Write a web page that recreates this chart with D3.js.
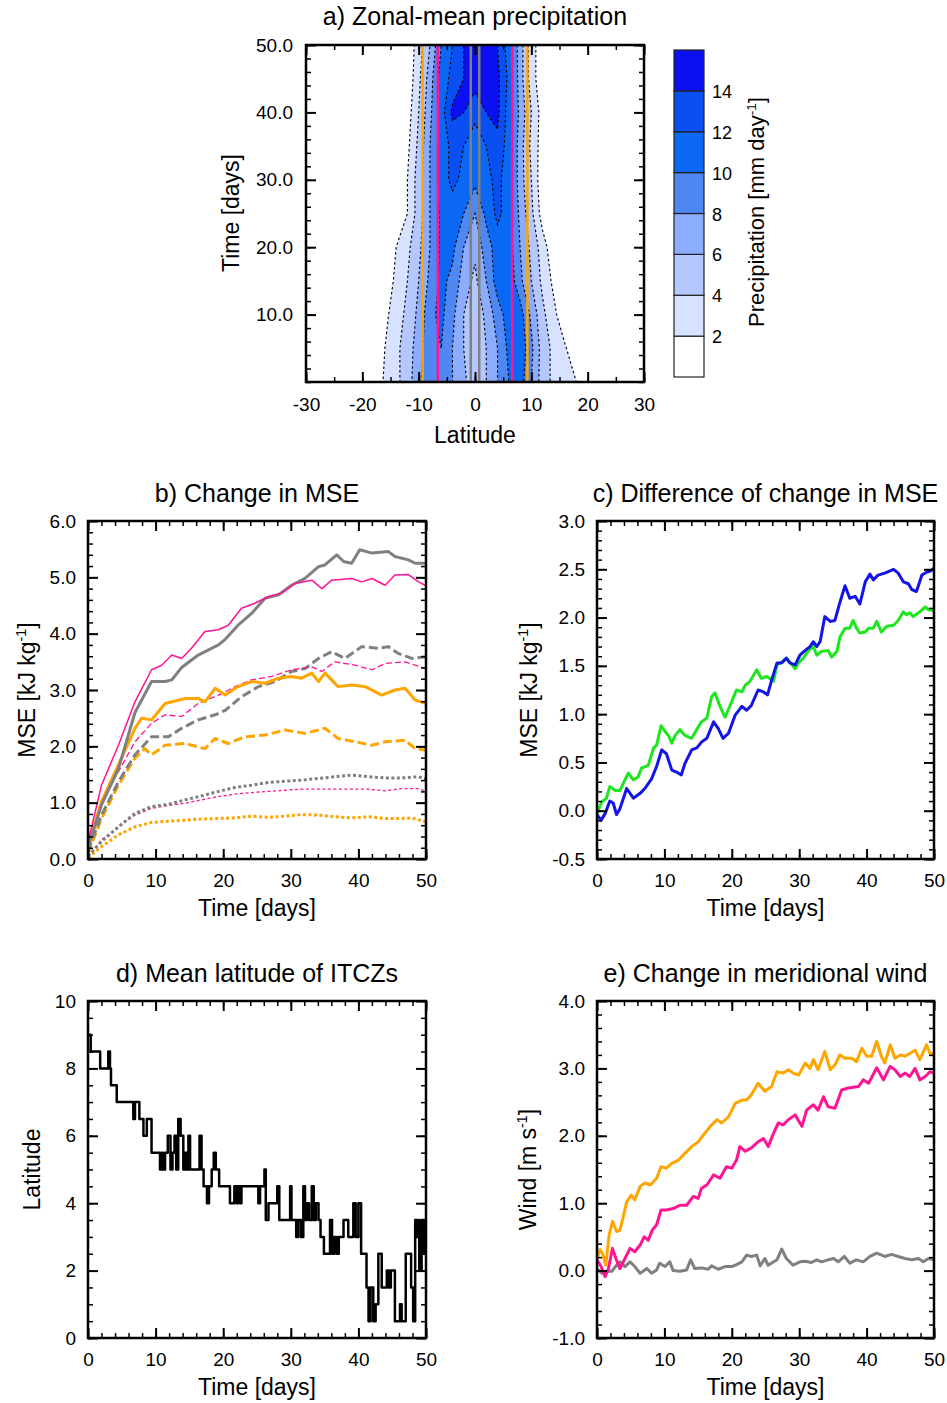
<!DOCTYPE html>
<html><head><meta charset="utf-8">
<script src="https://cdn.jsdelivr.net/npm/d3@7"></script>
<style>body{margin:0;background:#fff}</style>
</head><body>
<svg id="fig" width="947" height="1403" xmlns="http://www.w3.org/2000/svg"></svg>
<script>
// ---------------- DATA ----------------
// Panel a: zonal-mean precipitation (mm/day), rows = days, columns = latitudes
const precipLats = [-20,-18,-16,-14,-12,-10,-8,-6,-4,-2,0,2,4,6,8,10,12,14,16,18,20];
const precipDays = [0,5,10,15,20,25,30,35,40,45,50];
const precipDay0  = [0,0.5,2.3,3.5,5,7.5,10,9.5,8,6.5,4.5,6,8,10,11,8,5,3.5,2.5,2.0,0.3];
const precipDay5  = [0,0.5,2,3.5,5,7,9.5,10,8,6,4.5,6,8,10.5,11.5,8.5,5,3.5,2.2,0.5,0];
const precipDay10 = [0,0,1.5,3,4.5,6.5,9.5,10.5,8.5,6,4.5,6.5,9,11,11,7.5,4.5,2.5,0.5,0,0];
const precipDay15 = [0,0,0.5,2.5,4,6,8.5,10.5,9.5,7,5.5,8,11,11.5,8.5,6,3.5,1.5,0,0,0];
const precipDay20 = [0,0,0,2,3.5,5.5,8,10.5,10.5,8,6.5,9,11,11,8,5.5,3,0.5,0,0,0];
const precipDay25 = [0,0,0,0.5,2,5,8,10.5,11,10,8,10.5,12.5,11,7.5,4.5,1,0,0,0,0];
const precipDay30 = [0,0,0,0.5,2,5,8,11,12.5,11.5,10.5,11.5,12.5,11,7,4,0.5,0,0,0,0];
const precipDay35 = [0,0,0,0,1.5,4.5,8,11,12.5,12,11,12,13.5,11,7,3.5,1,0,0,0,0];
const precipDay40 = [0,0,0,0,1,4,7.5,11,14.5,14,12.5,14,14.5,11,7.5,4,1,0,0,0,0];
const precipDay45 = [0,0,0,0,0.5,3.5,7,11,12.5,14,15,15,14.5,11.5,7,3,0.5,0,0,0,0];
const precipDay50 = [0,0,0,0,0.5,3,6,10,12,14,15,15.5,14,11,7,3,0.5,0,0,0,0];
const precipRows = [precipDay0,precipDay5,precipDay10,precipDay15,precipDay20,precipDay25,
                    precipDay30,precipDay35,precipDay40,precipDay45,precipDay50];
const precipLevels = [2,4,6,8,10,12,14];
const precipColors = ["#ffffff","#d6e2ff","#b4c8ff","#8cacfd","#4f87f3","#0a68f5","#0a4ff2","#0a10f0"];
// region boundaries (latitude) in panel a
const boundOrange = [-9.3, 9.3];
const boundPink = [-6.6, 6.6];
const boundGray = [-0.75, 0.75];

// Panel b: change in MSE (kJ/kg) [day, value]
const bGraySolid = [[0,0.2],[2.0,0.96],[4.5,1.6],[6.95,2.6],[9.4,3.15],[11.4,3.15],[12.4,3.18],[13.85,3.4],[16.3,3.62],[19.3,3.8],[20.3,3.9],[22.2,4.15],[24.2,4.36],[26.2,4.63],[28.2,4.69],[30.1,4.86],[32.1,4.98],[34.1,5.19],[35.05,5.22],[36.8,5.4],[37.8,5.28],[39.0,5.25],[40.2,5.49],[42.0,5.43],[44.4,5.46],[45.4,5.37],[47.4,5.31],[48.4,5.25],[50,5.25]];
const bPinkSolid = [[0,0.3],[2.0,1.31],[4.5,2.02],[6.95,2.79],[9.4,3.36],[10.9,3.44],[12.4,3.62],[13.85,3.56],[15.3,3.74],[17.3,4.04],[19.3,4.07],[20.75,4.15],[22.7,4.45],[24.7,4.54],[26.7,4.66],[28.65,4.72],[30.6,4.89],[33.1,4.95],[34.6,4.8],[36.05,4.95],[39.0,4.98],[40.5,4.92],[42.0,4.98],[43.95,4.86],[45.4,5.04],[47.4,5.05],[48.9,4.92],[50,4.85]];
const bOrangeSolid = [[0,0.25],[2.0,1.02],[4.5,1.67],[6.95,2.32],[7.95,2.5],[9.4,2.47],[11.4,2.76],[14.35,2.85],[16.3,2.85],[17.3,2.79],[18.8,3.03],[20.3,2.91],[22.2,3.06],[24.2,3.15],[26.2,3.12],[28.2,3.21],[30.1,3.24],[31.6,3.21],[33.1,3.3],[34.1,3.15],[35.05,3.3],[37.0,3.06],[39.0,3.09],[41.0,3.06],[43.45,2.91],[45.4,3.0],[46.9,3.03],[48.4,2.82],[50,2.76]];
const bGrayDash = [[0,0.15],[2.0,0.78],[4.5,1.37],[6.95,1.85],[9.4,2.17],[11.9,2.17],[13.85,2.32],[16.3,2.47],[18.8,2.56],[20.3,2.64],[22.7,2.88],[25.2,3.06],[27.7,3.15],[30.1,3.33],[32.1,3.38],[34.1,3.56],[36.05,3.68],[38.0,3.56],[40.5,3.77],[42.95,3.74],[44.4,3.77],[45.9,3.65],[47.9,3.56],[50,3.59]];
const bPinkDash = [[0,0.2],[2.0,1.02],[4.5,1.55],[6.95,2.08],[9.4,2.41],[11.4,2.56],[13.85,2.53],[16.3,2.76],[19.3,2.91],[21.75,3.06],[24.2,3.18],[27.2,3.24],[30.1,3.36],[33.1,3.41],[34.6,3.33],[36.5,3.5],[39.5,3.44],[42.0,3.36],[43.95,3.47],[46.9,3.5],[50,3.38]];
const bOrangeDash = [[0,0.1],[2.0,0.72],[4.5,1.31],[6.95,1.79],[8.4,1.96],[9.4,1.85],[11.4,2.02],[14.35,2.05],[17.3,1.96],[18.8,2.14],[20.75,2.05],[23.2,2.17],[26.2,2.2],[29.15,2.29],[32.1,2.23],[35.05,2.32],[37.0,2.14],[39.5,2.08],[42.0,2.02],[43.95,2.08],[46.9,2.11],[48.4,1.96],[50,1.93]];
const bGrayDot = [[0,0.05],[2.0,0.31],[4.5,0.57],[6.95,0.81],[9.4,0.93],[11.9,0.97],[14.35,1.05],[16.8,1.12],[19.3,1.2],[21.75,1.27],[24.2,1.31],[26.7,1.36],[29.15,1.38],[31.6,1.4],[34.1,1.43],[36.5,1.46],[39.0,1.49],[41.5,1.46],[43.95,1.44],[46.4,1.44],[48.9,1.46],[50,1.42]];
const bPinkDot = [[0,0.05],[2.0,0.34],[4.5,0.57],[6.95,0.78],[9.4,0.9],[11.9,0.95],[14.35,0.99],[16.8,1.05],[19.3,1.11],[21.75,1.15],[24.2,1.18],[26.7,1.2],[29.15,1.22],[31.6,1.24],[34.1,1.24],[36.5,1.24],[39.0,1.24],[41.5,1.24],[43.95,1.21],[46.4,1.25],[48.9,1.25],[50,1.2]];
const bOrangeDot = [[0,0.02],[2.0,0.22],[4.5,0.43],[6.95,0.57],[9.4,0.65],[11.9,0.67],[14.35,0.69],[16.8,0.71],[19.3,0.72],[21.75,0.73],[24.2,0.76],[26.7,0.74],[29.15,0.76],[31.6,0.79],[34.1,0.78],[36.5,0.75],[39.0,0.73],[41.5,0.75],[43.95,0.72],[46.4,0.72],[47.9,0.73],[50,0.66]];

// Panel c: difference of change in MSE (kJ/kg)
const cBlue = [[0,-0.04],[0.6,-0.10],[1.2,-0.03],[1.9,0.10],[2.4,0.08],[2.9,-0.04],[3.4,0.02],[4.4,0.23],[5.4,0.13],[6.4,0.18],[7.1,0.23],[8.1,0.33],[8.85,0.46],[9.6,0.63],[10.3,0.59],[11.1,0.42],[11.8,0.40],[12.5,0.37],[13.05,0.49],[14.05,0.63],[14.8,0.65],[15.5,0.71],[16.3,0.75],[17.3,0.92],[18.0,0.85],[18.7,0.75],[19.5,0.80],[20.5,0.99],[21.5,1.08],[22.2,1.04],[22.9,1.09],[23.9,1.25],[24.7,1.23],[25.3,1.20],[25.9,1.35],[26.7,1.53],[27.4,1.53],[28.1,1.58],[28.6,1.53],[29.4,1.51],[30.1,1.61],[30.9,1.66],[31.6,1.70],[32.1,1.75],[32.6,1.70],[33.1,1.75],[33.8,2.01],[34.6,1.96],[35.3,1.97],[36.05,2.16],[36.8,2.33],[37.5,2.20],[38.3,2.22],[39.0,2.14],[39.8,2.37],[40.5,2.45],[41.0,2.39],[41.7,2.44],[42.7,2.46],[44.0,2.50],[44.7,2.46],[45.45,2.37],[46.2,2.35],[46.7,2.29],[47.4,2.27],[48.2,2.44],[48.9,2.47],[49.4,2.48],[50,2.51]];
const cGreen = [[0,-0.03],[0.7,0.09],[1.4,0.13],[1.9,0.25],[2.7,0.21],[3.4,0.21],[4.15,0.32],[4.65,0.39],[5.4,0.32],[6.1,0.35],[6.6,0.44],[7.6,0.47],[8.4,0.65],[8.85,0.68],[9.5,0.88],[10.1,0.82],[10.6,0.78],[11.1,0.70],[11.6,0.78],[12.3,0.84],[13.05,0.78],[14.05,0.75],[14.8,0.84],[15.5,0.92],[16.3,0.96],[17.0,1.18],[17.5,1.22],[18.25,1.08],[19.0,0.97],[19.7,1.08],[20.7,1.25],[21.5,1.23],[22.0,1.30],[22.7,1.34],[23.7,1.46],[24.4,1.37],[25.2,1.39],[26.2,1.34],[26.7,1.51],[27.4,1.54],[28.1,1.58],[28.6,1.54],[29.4,1.47],[29.9,1.53],[30.6,1.58],[31.4,1.66],[32.1,1.70],[32.6,1.61],[33.3,1.65],[34.3,1.66],[34.8,1.59],[35.6,1.65],[36.05,1.80],[36.8,1.89],[37.5,1.89],[38.0,1.97],[38.5,1.89],[39.0,1.84],[39.8,1.85],[40.3,1.89],[41.0,1.89],[41.5,1.96],[42.2,1.85],[43.0,1.91],[44.0,1.92],[44.7,1.97],[45.45,2.06],[45.9,2.03],[46.4,2.05],[46.9,2.01],[47.9,2.06],[48.7,2.11],[49.2,2.08],[50,2.07]];

// Panel d: mean latitude of ITCZs, change points [day, latitude]
const dItcz = [[0,9.0],[0.4,8.5],[1.8,8.0],[3.0,8.5],[3.25,8.0],[3.4,7.5],[4.25,7.0],[6.7,6.5],[6.95,7.0],[7.6,6.5],[8.2,6.0],[8.7,6.5],[9.4,5.5],[10.65,5.0],[10.9,5.5],[11.1,5.0],[11.4,5.5],[11.8,6.0],[12.2,5.0],[12.5,5.5],[12.8,6.0],[13.05,5.0],[13.35,6.5],[13.7,6.0],[14.1,5.0],[14.35,5.5],[14.6,5.0],[14.85,6.0],[15.1,5.0],[16.5,6.0],[16.8,5.0],[17.1,4.5],[17.6,4.0],[17.9,4.5],[18.3,5.0],[18.6,5.5],[18.9,5.0],[19.4,4.5],[21.0,4.0],[21.65,4.5],[22.0,4.0],[22.2,4.5],[22.5,4.0],[22.7,4.5],[25.2,4.0],[25.45,4.5],[26.1,5.0],[26.3,3.5],[26.7,4.0],[28.0,4.5],[28.3,3.5],[29.9,4.5],[30.1,3.5],[30.8,3.0],[31.1,3.5],[31.5,3.0],[31.85,4.5],[32.1,3.5],[32.35,4.0],[32.7,3.5],[33.1,4.5],[33.4,3.5],[33.7,4.0],[34.1,3.5],[34.4,3.0],[34.9,2.5],[35.8,3.5],[36.1,2.5],[36.45,3.0],[36.8,2.5],[37.1,3.0],[37.8,3.5],[38.5,3.0],[39.25,4.0],[39.6,3.0],[40.0,4.0],[40.4,2.5],[41.2,1.5],[41.5,0.5],[41.8,1.5],[42.2,0.5],[42.55,1.0],[42.95,2.5],[43.45,1.5],[44.2,2.0],[44.5,1.5],[44.8,2.0],[45.4,0.5],[46.15,1.0],[46.4,0.5],[47.0,2.5],[47.8,1.5],[48.1,0.5],[48.4,3.5],[48.6,3.0],[48.9,3.5],[49.0,2.0],[49.35,3.5],[49.6,2.5],[49.85,3.5],[50,3.5]];

// Panel e: change in meridional wind (m/s)
const eOrange = [[0,0.18],[0.45,0.31],[0.8,0.26],[1.3,0.08],[1.8,0.53],[2.3,0.73],[2.9,0.58],[3.4,0.60],[3.9,0.80],[4.4,1.02],[5.1,1.12],[5.6,1.05],[6.4,1.25],[7.1,1.30],[7.9,1.27],[8.85,1.37],[9.5,1.54],[10.3,1.52],[11.1,1.59],[12.1,1.64],[13.05,1.74],[14.05,1.84],[15.0,1.91],[16.0,2.04],[17.0,2.16],[17.8,2.24],[18.5,2.19],[19.5,2.28],[20.5,2.48],[21.5,2.53],[22.2,2.53],[22.9,2.61],[23.9,2.78],[24.9,2.66],[25.9,2.73],[26.7,2.95],[27.6,2.93],[28.4,2.98],[29.1,2.93],[29.9,2.90],[30.9,3.08],[31.6,3.00],[32.1,3.13],[32.8,2.98],[33.8,3.25],[34.6,2.98],[35.3,3.05],[36.05,3.20],[36.8,3.15],[37.8,3.15],[38.5,3.10],[39.3,3.30],[40.0,3.18],[40.75,3.18],[41.5,3.40],[42.2,3.18],[42.7,3.08],[43.5,3.35],[44.2,3.15],[45.0,3.20],[45.7,3.18],[46.4,3.22],[47.2,3.27],[47.9,3.13],[48.9,3.35],[49.4,3.22],[50,3.22]];
const ePink = [[0,0.16],[0.6,0.06],[1.2,-0.09],[1.7,0.03],[2.3,0.33],[2.8,0.18],[3.4,0.03],[4.15,0.18],[4.9,0.33],[5.6,0.28],[6.4,0.38],[7.0,0.50],[7.6,0.45],[8.2,0.60],[8.85,0.68],[9.5,0.90],[10.3,0.90],[11.3,0.92],[12.3,0.97],[13.3,0.97],[14.3,1.10],[15.0,1.07],[15.5,1.22],[16.3,1.27],[17.3,1.42],[18.25,1.37],[19.2,1.54],[20.0,1.52],[20.7,1.64],[21.2,1.84],[22.0,1.77],[22.9,1.82],[23.9,1.91],[24.7,1.96],[25.4,1.84],[26.2,2.04],[26.9,2.19],[27.6,2.16],[28.4,2.24],[29.4,2.31],[30.4,2.14],[31.1,2.38],[32.1,2.46],[32.8,2.38],[33.6,2.58],[34.3,2.43],[35.3,2.41],[36.3,2.68],[37.3,2.71],[38.8,2.73],[39.5,2.83],[40.3,2.78],[41.5,3.01],[42.5,2.83],[43.5,3.03],[44.2,2.98],[45.0,2.88],[45.7,2.93],[46.4,2.88],[47.2,3.00],[47.9,2.83],[48.7,2.88],[49.4,2.95],[50,2.93]];
const eGray = [[0,0.03],[0.7,-0.04],[1.4,-0.01],[2.2,-0.01],[2.9,0.08],[3.4,0.13],[4.15,0.06],[4.9,0.13],[5.6,0.06],[6.4,-0.04],[7.4,0.03],[8.1,-0.04],[8.85,0.01],[9.3,0.11],[10.1,0.06],[10.8,0.13],[11.3,0.00],[12.3,-0.01],[13.3,0.01],[13.9,0.16],[14.5,0.03],[15.5,0.04],[16.5,0.02],[17.0,0.07],[18.0,0.02],[19.0,0.06],[20.0,0.06],[20.7,0.09],[21.5,0.13],[22.2,0.23],[22.9,0.21],[23.7,0.23],[24.2,0.07],[24.9,0.18],[25.4,0.08],[26.2,0.13],[26.7,0.16],[27.4,0.32],[28.1,0.18],[29.1,0.08],[30.1,0.13],[30.9,0.14],[31.8,0.12],[32.6,0.16],[33.3,0.13],[34.3,0.16],[35.1,0.18],[35.8,0.13],[36.7,0.21],[37.5,0.11],[38.5,0.16],[39.5,0.13],[40.5,0.21],[41.5,0.26],[42.7,0.21],[43.7,0.24],[44.7,0.21],[45.7,0.18],[46.7,0.16],[47.7,0.18],[48.4,0.13],[49.2,0.18],[50,0.16]];

// tick values
const dayTicks = [0,10,20,30,40,50];
const latTicks = [-30,-20,-10,0,10,20,30];
const timeTicksA = [10,20,30,40,50];
const mseTicks = [0,1,2,3,4,5,6];
const diffTicks = [-0.5,0,0.5,1,1.5,2,2.5,3];
const itczTicks = [0,2,4,6,8,10];
const windTicks = [-1,0,1,2,3,4];

// ---------------- DRAWING ----------------
const FONT = '"Liberation Sans", Arial, Helvetica, sans-serif';
const GRAY = "#808080", ORANGE = "#ffa500", PINK = "#ff1493";
const loc = d3.formatLocale({decimal: ".", thousands: ",", grouping: [3], currency: ["", ""], minus: "-"});
const fmtInt = loc.format("d"), fmt1 = loc.format(".1f");
const svg = d3.select("#fig");
svg.append("rect").attr("width",947).attr("height",1403).attr("fill","#fff");

function rng(a,b,s){ const out=[]; for(let v=a; v<=b+1e-9; v+=s) out.push(+v.toFixed(6)); return out; }

function axes(g, x, y, o) {
  const [xa, xb] = x.range(), [ya, yb] = y.range();
  const majL = 10, minL = 5;
  const style = sel => { sel.select(".domain").remove();
    sel.selectAll("line").attr("stroke","#000");
    sel.selectAll("text").attr("font-family",FONT).attr("font-size",19).attr("fill","#000"); };
  const add = (ax, tr, vals, len, fmt, pad, w) => {
    const a = ax.tickValues(vals).tickSize(-len).tickPadding(pad).tickFormat(fmt);
    const s = g.append("g").attr("transform", tr).call(a).call(style);
    s.selectAll("line").attr("stroke-width", w);
  };
  const none = () => "";
  add(d3.axisBottom(x), `translate(0,${ya})`, o.xMinor, minL, none, 0, 1.5);
  add(d3.axisTop(x), `translate(0,${yb})`, o.xMinor, minL, none, 0, 1.5);
  add(d3.axisLeft(y), `translate(${xa},0)`, o.yMinor, minL, none, 0, 1.5);
  add(d3.axisRight(y), `translate(${xb},0)`, o.yMinor, minL, none, 0, 1.5);
  add(d3.axisBottom(x), `translate(0,${ya})`, o.xMajor, majL, o.xFmt, o.xPad, 2);
  add(d3.axisTop(x), `translate(0,${yb})`, o.xMajor, majL, none, 0, 2);
  add(d3.axisLeft(y), `translate(${xa},0)`, o.yMajor, majL, o.yFmt, o.yPad, 2);
  add(d3.axisRight(y), `translate(${xb},0)`, o.yMajor, majL, none, 0, 2);
  g.append("rect").attr("x",xa).attr("y",yb).attr("width",xb-xa).attr("height",ya-yb)
    .attr("fill","none").attr("stroke","#000").attr("stroke-width",2.5);
}

function txt(x, y, s, size, anchor, rot) {
  const t = svg.append("text").attr("font-family",FONT).attr("font-size",size)
    .attr("text-anchor",anchor||"middle").attr("fill","#000");
  if (rot) t.attr("transform",`translate(${x},${y}) rotate(-90)`);
  else t.attr("x",x).attr("y",y);
  if (Array.isArray(s)) {
    t.append("tspan").text(s[0]);
    t.append("tspan").attr("font-size",size*0.62).attr("dy",-size*0.38).text(s[1]);
    t.append("tspan").attr("dy",size*0.38).text(s[2]);
  } else t.text(s);
  return t;
}

// ---- Panel a ----
{
  const xA = d3.scaleLinear().domain([-30,30]).range([306,644]);
  const yA = d3.scaleLinear().domain([0,50]).range([382,45]);
  const g = svg.append("g");
  svg.append("clipPath").attr("id","clipA").append("rect")
    .attr("x",306).attr("y",45).attr("width",338).attr("height",337);
  const fullLats = d3.range(-30, 31, 2);
  const nx = fullLats.length, ny = precipRows.length;
  const values = [];
  precipRows.forEach(row => fullLats.forEach(l => {
    const i = precipLats.indexOf(l); values.push(i < 0 ? 0 : row[i]);
  }));
  const cont = d3.contours().size([nx, ny]).thresholds(precipLevels)(values);
  const lat0 = fullLats[0], dl = fullLats[1]-fullLats[0], dd = precipDays[1]-precipDays[0];
  const proj = d3.geoTransform({ point(px, py) {
    this.stream.point(xA(lat0 + dl*(px-0.5)), yA(precipDays[0] + dd*(py-0.5)));
  }});
  const path = d3.geoPath(proj);
  const cg = g.append("g").attr("clip-path","url(#clipA)");
  cg.selectAll("path.fill").data(cont).join("path").attr("class","fill")
    .attr("d", path).attr("fill", d => precipColors[precipLevels.indexOf(d.value)+1]).attr("stroke","none");
  cg.selectAll("path.line").data(cont).join("path").attr("class","line")
    .attr("d", path).attr("fill","none").attr("stroke","#000").attr("stroke-width",1.1)
    .attr("stroke-dasharray","2.5,2.5");
  const vlines = [[boundOrange, ORANGE],[boundPink, PINK],[boundGray, GRAY]];
  vlines.forEach(([vals, col]) => vals.forEach(v => {
    cg.append("line").attr("x1",xA(v)).attr("x2",xA(v)).attr("y1",yA(0)).attr("y2",yA(50))
      .attr("stroke",col).attr("stroke-width",2.5);
  }));
  axes(g, xA, yA, { xMajor: latTicks, xMinor: rng(-30,30,5), yMajor: timeTicksA, yMinor: rng(0,50,2),
    xFmt: fmtInt, yFmt: fmt1, xPad: 16, yPad: 13 });
  txt(475, 25, "a) Zonal-mean precipitation", 25);
  txt(475, 443, "Latitude", 23);
  txt(239, 213, "Time [days]", 23, "middle", true);

  // colorbar
  const cb = d3.scaleLinear().domain([0,16]).range([377,50]);
  const cbg = svg.append("g");
  precipColors.forEach((c,k) => {
    cbg.append("rect").attr("x",674).attr("width",30).attr("y",cb(2*k+2)).attr("height",cb(2*k)-cb(2*k+2))
      .attr("fill",c).attr("stroke","#222").attr("stroke-width",1.2);
  });
  precipLevels.forEach(v => {
    cbg.append("text").attr("x",712).attr("y",cb(v)+7).attr("font-family",FONT).attr("font-size",18).text(v);
  });
  txt(764, 212, ["Precipitation [mm day","-1","]"], 22, "middle", true);
}

// ---- line panel helper ----
function linePanel(x0, x1, y0, y1, ydom, o, series, title, ylab, curve) {
  const x = d3.scaleLinear().domain([0,50]).range([x0,x1]);
  const y = d3.scaleLinear().domain(ydom).range([y1,y0]);
  const g = svg.append("g");
  const line = d3.line().x(d => x(d[0])).y(d => y(d[1])).curve(curve || d3.curveLinear);
  series.forEach(s => {
    g.append("path").attr("d", line(s.d)).attr("fill","none").attr("stroke",s.c)
      .attr("stroke-width",s.w).attr("stroke-dasharray",s.dash||null)
      .attr("stroke-linejoin","round");
  });
  axes(g, x, y, { xMajor: dayTicks, xMinor: rng(0,50,2), yMajor: o.yMajor, yMinor: o.yMinor,
    xFmt: fmtInt, yFmt: o.yFmt, xPad: 15, yPad: 12 });
  const cx = (x0+x1)/2;
  txt(cx, y0-19, title, 25);
  txt(cx, y1+57, "Time [days]", 23);
  txt(o.ylabX, (y0+y1)/2, ylab, 23, "middle", true);
}

const DASH = "9,4", DOT = "3,2.5";
linePanel(88, 426, 521, 859, [0,6],
  { yMajor: mseTicks, yMinor: rng(0,6,0.2), yFmt: fmt1, ylabX: 35 },
  [ {d:bOrangeDot,c:ORANGE,w:3,dash:DOT}, {d:bPinkDot,c:PINK,w:1.3,dash:DOT}, {d:bGrayDot,c:GRAY,w:3,dash:DOT},
    {d:bOrangeDash,c:ORANGE,w:3,dash:DASH}, {d:bGrayDash,c:GRAY,w:3,dash:DASH}, {d:bPinkDash,c:PINK,w:1.3,dash:"6,3"},
    {d:bOrangeSolid,c:ORANGE,w:3}, {d:bGraySolid,c:GRAY,w:3}, {d:bPinkSolid,c:PINK,w:1.5} ],
  "b) Change in MSE", ["MSE [kJ kg","-1","]"]);

linePanel(597, 934, 521, 859, [-0.5,3],
  { yMajor: diffTicks, yMinor: rng(-0.5,3,0.1), yFmt: fmt1, ylabX: 537 },
  [ {d:cGreen,c:"#1ee61e",w:3}, {d:cBlue,c:"#1414e6",w:3} ],
  "c) Difference of change in MSE", ["MSE [kJ kg","-1","]"]);

linePanel(88, 426, 1001, 1338, [0,10],
  { yMajor: itczTicks, yMinor: rng(0,10,0.5), yFmt: fmtInt, ylabX: 40 },
  [ {d:dItcz,c:"#000",w:2.5} ],
  "d) Mean latitude of ITCZs", "Latitude", d3.curveStepAfter);

linePanel(597, 934, 1001, 1338, [-1,4],
  { yMajor: windTicks, yMinor: rng(-1,4,0.2), yFmt: fmt1, ylabX: 536 },
  [ {d:eGray,c:GRAY,w:3}, {d:ePink,c:PINK,w:3}, {d:eOrange,c:ORANGE,w:3} ],
  "e) Change in meridional wind", ["Wind [m s","-1","]"]);
</script>
</body></html>
